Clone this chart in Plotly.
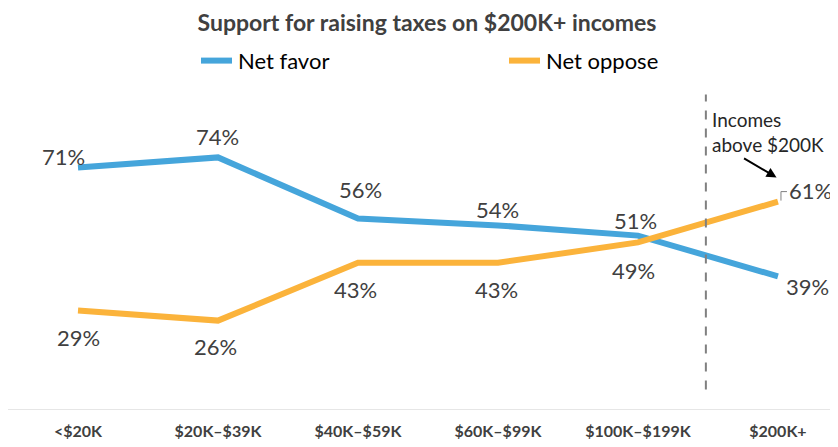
import plotly.graph_objects as go

categories = ["<$20K", "$20K–$39K", "$40K–$59K", "$60K–$99K", "$100K–$199K", "$200K+"]
net_favor = [71, 74, 56, 54, 51, 39]
net_oppose = [29, 26, 43, 43, 49, 61]
series_names = ["Net favor", "Net oppose"]

BLUE = "#45A5DB"
ORANGE = "#FBB33B"
TXT = "#404040"
FONT = "Lato"

# label pixel offsets (style only)
favor_shift = [(-15, 11), (0, 21), (3, 29), (0, 16), (-2, 15), (30, -10)]
oppose_shift = [(0, -27), (-2, -26), (-2, -27), (-1, -27), (-4, -28), (33, 11)]

x = list(range(len(categories)))

fig = go.Figure()
fig.add_trace(go.Scatter(x=x, y=net_favor, mode="lines", name=series_names[0],
                         line=dict(color=BLUE, width=6), hoverinfo="skip"))
fig.add_trace(go.Scatter(x=x, y=net_oppose, mode="lines", name=series_names[1],
                         line=dict(color=ORANGE, width=6), hoverinfo="skip"))

annotations = []
for vals, shifts in ((net_favor, favor_shift), (net_oppose, oppose_shift)):
    for i, v in enumerate(vals):
        annotations.append(dict(x=i, y=v, xref="x", yref="y", text=f"{v}%",
                                showarrow=False, xshift=shifts[i][0], yshift=shifts[i][1],
                                font=dict(family=FONT, size=22, color=TXT)))

annotations.append(dict(x=4.5, y=81.6, xref="x", yref="y", text="Incomes<br>above $200K",
                        showarrow=False, xanchor="left", xshift=2, align="left",
                        font=dict(family=FONT, size=19, color="#262626")))
annotations.append(dict(x=4.99, y=68.1, xref="x", yref="y", text="", showarrow=True,
                        ax=-34, ay=-20, arrowhead=2, arrowsize=1, arrowwidth=2,
                        arrowcolor="#000000"))

# page has an 8px body margin; plot spans page x 8..846, y 69.4..409.4
W, H = 838.0, 340.0
def px(xp):
    return (xp - 8) / W
def py(yp):
    return (409.4 - yp) / H

shapes = []
for name, color, x0, tx in ((series_names[0], BLUE, 201, 236), (series_names[1], ORANGE, 509, 544)):
    shapes.append(dict(type="line", xref="paper", yref="paper", x0=px(x0), x1=px(x0 + 31),
                       y0=py(61), y1=py(61), line=dict(color=color, width=6)))
    annotations.append(dict(x=px(tx), y=py(61), xref="paper", yref="paper", text=name,
                            showarrow=False, xanchor="left", yanchor="middle",
                            font=dict(family=FONT, size=22, color="#000000")))

shapes += [
    dict(type="line", xref="x", yref="y", x0=4.485, x1=4.485, y0=5.7, y1=92.5,
         line=dict(color="#808080", width=2, dash="dash")),
    dict(type="path", xref="x", yref="y", xsizemode="pixel", ysizemode="pixel",
         xanchor=5, yanchor=61, path="M 3,1 L 3,10 L 9,10",
         line=dict(color="#808080", width=1)),
]

fig.update_layout(
    width=838, height=447,
    margin=dict(l=0, r=0, t=61.4, b=45.6, autoexpand=False),
    paper_bgcolor="white", plot_bgcolor="white",
    title=dict(text="<b>Support for raising taxes on $200K+ incomes</b>",
               x=0.5, xanchor="center", xref="paper", y=1 - 14.5 / 447, yanchor="middle",
               font=dict(family=FONT, size=23, color=TXT)),
    showlegend=False,
    xaxis=dict(range=[-0.5, 5.486], tickmode="array", tickvals=x, ticktext=categories,
               showgrid=False, zeroline=False, showline=True, linecolor="#e6e6e6",
               linewidth=1, ticks="", ticklabelstandoff=8, automargin=False,
               tickfont=dict(family=FONT, size=16, color=TXT, weight="bold")),
    yaxis=dict(range=[0, 100], showgrid=False, zeroline=False, showticklabels=False,
               showline=False, automargin=False),
    annotations=annotations,
    shapes=shapes,
)

fig.write_html("out.html")
